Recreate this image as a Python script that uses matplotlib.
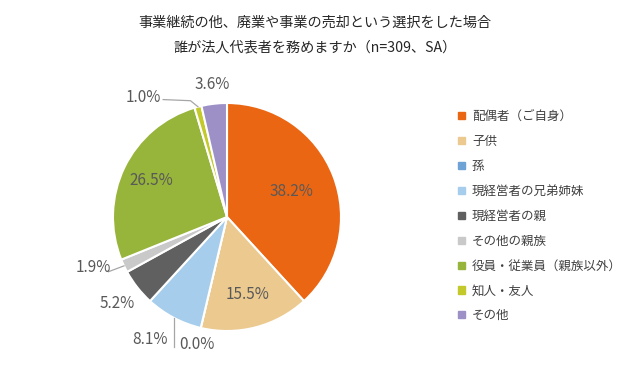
import numpy as np
import matplotlib.pyplot as plt

plt.rcParams['font.family'] = ['Noto Sans CJK JP', 'DejaVu Sans']

title_1 = "事業継続の他、廃業や事業の売却という選択をした場合"
title_2 = "誰が法人代表者を務めますか（n=309、SA）"

categories = ["配偶者（ご自身）", "子供", "孫", "現経営者の兄弟姉妹", "現経営者の親",
              "その他の親族", "役員・従業員（親族以外）", "知人・友人", "その他"]
values = [38.2, 15.5, 0.0, 8.1, 5.2, 1.9, 26.5, 1.0, 3.6]
colors = ["#EB6612", "#EBC98F", "#6FA3D6", "#A6CDEB", "#606060",
          "#C9C9C9", "#97B43B", "#C3C92B", "#9D90C7"]

# where each percentage label sits: (radius, extra dx, extra dy) in pie units
label_pos = [(0.61, 0, 0), (0.70, 0, 0), (1.15, 0, 0), (1.15, -0.14, -0.06),
             (1.23, 0, 0), (1.30, 0, 0.11), (0.74, 0, 0), (1.25, -0.42, -0.16), (1.17, 0, 0)]
label_color = "#595959"
line_color = "#A6A6A6"

fig = plt.figure(figsize=(6.3, 3.68), dpi=100)
ax = fig.add_axes([(227 - 114) / 630, (368 - 217 - 114) / 368, 228 / 630, 228 / 368])

wedges, _ = ax.pie(values, colors=colors, startangle=90, counterclock=False, radius=1,
                   wedgeprops=dict(edgecolor="white", linewidth=1.5))
ax.set_xlim(-1, 1)
ax.set_ylim(-1, 1)
ax.set_aspect("equal")
ax.axis("off")

for w, v, (r, dx, dy) in zip(wedges, values, label_pos):
    ang = np.deg2rad((w.theta1 + w.theta2) / 2)
    x = r * np.cos(ang) + dx
    y = r * np.sin(ang) + dy
    ax.text(x, y, f"{v:.1f}%", ha="center", va="center", fontsize=11,
            color=label_color, clip_on=False)

# leader lines for the small slices
def edge_point(w, r=1.0):
    ang = np.deg2rad((w.theta1 + w.theta2) / 2)
    return r * np.cos(ang), r * np.sin(ang)

ex, ey = edge_point(wedges[3])
ax.plot([ex, ex], [ey, -1.14], color=line_color, lw=0.9, clip_on=False)
ex, ey = edge_point(wedges[5])
ax.plot([-1.04, ex], [-0.48, ey], color=line_color, lw=0.9, clip_on=False)
ex, ey = edge_point(wedges[7])
ax.plot([-0.56, -0.32, ex], [1.03, 1.02, ey], color=line_color, lw=0.9, clip_on=False)

fig.text(0.5, 1 - 23 / 368, title_1, ha="center", va="center", fontsize=10.2, color="#262626")
fig.text(0.5, 1 - 47 / 368, title_2, ha="center", va="center", fontsize=10.2, color="#262626")

handles = [plt.Rectangle((0, 0), 1, 1, color=c) for c in colors]
fig.legend(handles, categories, loc="upper left", bbox_to_anchor=(447 / 630, 1 - 99 / 368),
           frameon=False, fontsize=9, handlelength=0.5, handleheight=0.5,
           handletextpad=0.6, labelspacing=0.95, labelcolor="#404040")

fig.savefig("out.png", dpi=100)
